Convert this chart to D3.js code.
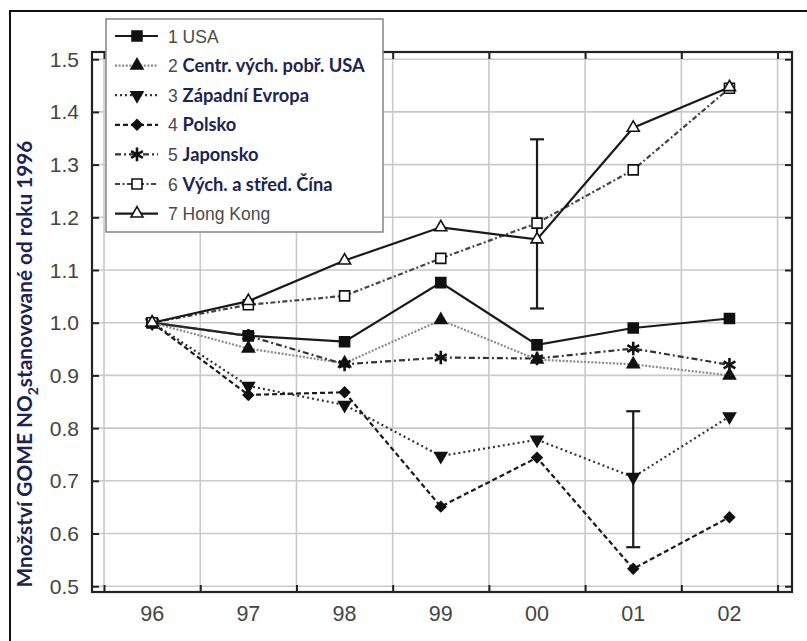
<!DOCTYPE html>
<html>
<head>
<meta charset="utf-8">
<script src="https://cdn.jsdelivr.net/npm/d3@7"></script>
<style>
  body { margin: 0; background: #fff; }
  svg { display: block; }
</style>
</head>
<body>
<div id="chart"></div>
<script>
// year positions (96..102 = 1996..2002) and their tick labels
let years = [96, 97, 98, 99, 100, 101, 102]
let year_labels = ["96", "97", "98", "99", "00", "01", "02"]
let y_ticks = [0.5, 0.6, 0.7, 0.8, 0.9, 1.0, 1.1, 1.2, 1.3, 1.4, 1.5]

let usa      = [1.0, 0.975, 0.964, 1.076, 0.958, 0.99, 1.008]
let usa_east = [1.0, 0.951, 0.923, 1.005, 0.930, 0.921, 0.900]
let w_europe = [1.0, 0.880, 0.844, 0.747, 0.778, 0.707, 0.822]
let poland   = [1.0, 0.863, 0.868, 0.651, 0.744, 0.533, 0.631]
let japan    = [1.0, 0.975, 0.921, 0.934, 0.932, 0.951, 0.920]
let china    = [1.0, 1.034, 1.051, 1.122, 1.189, 1.290, 1.445]
let hongkong = [1.0, 1.041, 1.118, 1.181, 1.158, 1.370, 1.447]

let series_nums = ["1", "2", "3", "4", "5", "6", "7"]
let series_names = ["USA", "Centr. vých. pobř. USA", "Západní Evropa", "Polsko", "Japonsko", "Vých. a střed. Čína", "Hong Kong"]

// error bars at 2000 and 2001
let err_years = [100, 101]
let err_low = [1.027, 0.574]
let err_high = [1.348, 0.832]

let series = [
    {num: series_nums[0], name: series_names[0], vals: usa,      dash: null,          stroke: "#1a1a1a", sym: "square",  fill: "#111", bold: false},
    {num: series_nums[1], name: series_names[1], vals: usa_east, dash: "2,1.6",       stroke: "#8a8a8a", sym: "tri",     fill: "#111", bold: true},
    {num: series_nums[2], name: series_names[2], vals: w_europe, dash: "2,3",         stroke: "#333",    sym: "tridown", fill: "#111", bold: true},
    {num: series_nums[3], name: series_names[3], vals: poland,   dash: "5,3",         stroke: "#1a1a1a", sym: "diamond", fill: "#111", bold: true},
    {num: series_nums[4], name: series_names[4], vals: japan,    dash: "6,3,2,3",     stroke: "#333",    sym: "star",    fill: "#111", bold: true},
    {num: series_nums[5], name: series_names[5], vals: china,    dash: "5,2.5,2,2.5", stroke: "#444",    sym: "square",  fill: "#fff", bold: true},
    {num: series_nums[6], name: series_names[6], vals: hongkong, dash: null,          stroke: "#1a1a1a", sym: "tri",     fill: "#fff", bold: false}
]

let W = 807, H = 641
let pl = 92, pr = 792, pt = 52, pb = 592
let sans = "'Liberation Sans', Arial, Helvetica, sans-serif"
let bold_font = "Lato, 'Open Sans', sans-serif"

let x = d3.scaleLinear().domain([95.375, 102.65]).range([pl, pr])
let y = d3.scaleLinear().domain([0.489, 1.5137]).range([pb, pt])

let svg = d3.select("#chart").append("svg").attr("width", W).attr("height", H)

// outer frame
svg.append("rect")
    .attr("x", 10).attr("y", 11).attr("width", 1000).attr("height", 1000)
    .attr("fill", "none").attr("stroke", "#111").attr("stroke-width", 2)

let grid_x = years.map(d => d - 0.5).concat([102.5])

// gridlines
svg.append("g").selectAll("line")
    .data(y_ticks).enter().append("line")
    .attr("x1", pl).attr("x2", pr)
    .attr("y1", d => y(d)).attr("y2", d => y(d))
    .attr("stroke", "#c9c9c9").attr("stroke-width", 1.6)
svg.append("g").selectAll("line")
    .data(grid_x).enter().append("line")
    .attr("x1", d => x(d)).attr("x2", d => x(d))
    .attr("y1", pt).attr("y2", pb)
    .attr("stroke", "#c9c9c9").attr("stroke-width", 1.6)

// axes with inward ticks
let tick_len = 7
svg.append("g").attr("transform", `translate(${pl},0)`)
    .call(d3.axisRight(y).tickValues(y_ticks).tickSize(tick_len).tickFormat(""))
svg.append("g").attr("transform", `translate(${pr},0)`)
    .call(d3.axisLeft(y).tickValues(y_ticks).tickSize(tick_len).tickFormat(""))
svg.append("g").attr("transform", `translate(0,${pb})`)
    .call(d3.axisTop(x).tickValues(grid_x).tickSize(tick_len).tickFormat(""))
svg.append("g").attr("transform", `translate(0,${pt})`)
    .call(d3.axisBottom(x).tickValues(grid_x).tickSize(tick_len).tickFormat(""))
svg.selectAll(".domain").remove()
svg.selectAll(".tick line").attr("stroke", "#222").attr("stroke-width", 2)

svg.append("rect")
    .attr("x", pl).attr("y", pt).attr("width", pr - pl).attr("height", pb - pt)
    .attr("fill", "none").attr("stroke", "#222").attr("stroke-width", 2.2)

// tick labels
svg.append("g").selectAll("text")
    .data(y_ticks).enter().append("text")
    .attr("x", 79).attr("y", d => y(d) + 7.5)
    .attr("text-anchor", "end")
    .style("font-family", sans)
    .attr("font-size", 21).attr("fill", "#444")
    .text(d => d.toFixed(1))

svg.append("g").selectAll("text")
    .data(years).enter().append("text")
    .attr("x", d => x(d)).attr("y", 621)
    .attr("text-anchor", "middle")
    .style("font-family", sans)
    .attr("font-size", 21.5).attr("fill", "#444")
    .text((d, i) => year_labels[i])

// y title
let title = svg.append("text")
    .attr("transform", "translate(32,364) rotate(-90)")
    .attr("text-anchor", "middle")
    .style("font-family", bold_font)
    .attr("font-weight", "bold")
    .attr("font-size", 20.8)
    .attr("fill", "#1c2452")
title.append("tspan").text("Množství GOME NO")
title.append("tspan").attr("font-size", 14).attr("dy", 6).text("2")
title.append("tspan").attr("dy", -6).text("stanovované od roku 1996")

// markers
function marker_path(sym) {
    if (sym == "square") return d3.symbol(d3.symbolSquare, 100)()
    if (sym == "tri" || sym == "tridown") return d3.symbol(d3.symbolTriangle, 62)()
    if (sym == "diamond") return d3.symbol(d3.symbolSquare, 52)()
    if (sym == "star") return d3.symbol(d3.symbolAsterisk, 130)()
}
function marker_rot(sym) {
    if (sym == "tridown") return 180
    if (sym == "diamond") return 45
    return 0
}
function draw_marker(g, s, cx, cy) {
    g.append("path")
        .attr("d", marker_path(s.sym))
        .attr("transform", `translate(${cx},${cy}) rotate(${marker_rot(s.sym)})`)
        .attr("fill", s.sym == "star" ? "none" : s.fill)
        .attr("stroke", "#111")
        .attr("stroke-width", s.sym == "star" ? 2.6 : 1.6)
}

let line = d3.line().x((d, i) => x(years[i])).y(d => y(d))

let lines_g = svg.append("g")
series.forEach(s => {
    lines_g.append("path")
        .datum(s.vals)
        .attr("d", line)
        .attr("fill", "none")
        .attr("stroke", s.stroke)
        .attr("stroke-width", 2.2)
        .attr("stroke-dasharray", s.dash)
})

// error bars
let err_g = svg.append("g")
err_years.forEach((yr, i) => {
    let cx = x(yr)
    err_g.append("line").attr("x1", cx).attr("x2", cx)
        .attr("y1", y(err_low[i])).attr("y2", y(err_high[i]))
        .attr("stroke", "#1a1a1a").attr("stroke-width", 2.2)
    ;[err_low[i], err_high[i]].forEach(v => {
        err_g.append("line").attr("x1", cx - 7).attr("x2", cx + 7)
            .attr("y1", y(v)).attr("y2", y(v))
            .attr("stroke", "#1a1a1a").attr("stroke-width", 2.2)
    })
})

let marks_g = svg.append("g")
series.forEach(s => {
    s.vals.forEach((v, i) => draw_marker(marks_g, s, x(years[i]), y(v)))
})

// legend
let leg = svg.append("g")
leg.append("rect")
    .attr("x", 106).attr("y", 19).attr("width", 277).attr("height", 213)
    .attr("fill", "#fff").attr("stroke", "#8c8c8c").attr("stroke-width", 1.6)

series.forEach((s, i) => {
    let ly = 36 + i * 29.6
    leg.append("line")
        .attr("x1", 115).attr("x2", 158).attr("y1", ly).attr("y2", ly)
        .attr("stroke", s.stroke).attr("stroke-width", 2.2)
        .attr("stroke-dasharray", s.dash)
    draw_marker(leg, s, 137, ly)
    let t = leg.append("text")
        .attr("x", 168).attr("y", ly + 6.5)
        .attr("font-size", 17.5)
    t.append("tspan")
        .style("font-family", sans)
        .attr("fill", "#4a4a4a")
        .text(s.num + " ")
    t.append("tspan")
        .style("font-family", s.bold ? bold_font : sans)
        .attr("font-weight", s.bold ? "bold" : "normal")
        .attr("font-size", s.bold ? 18.3 : 17.5)
        .attr("fill", s.bold ? "#1c2452" : "#4a4a4a")
        .text(s.name)
})
</script>
</body>
</html>
